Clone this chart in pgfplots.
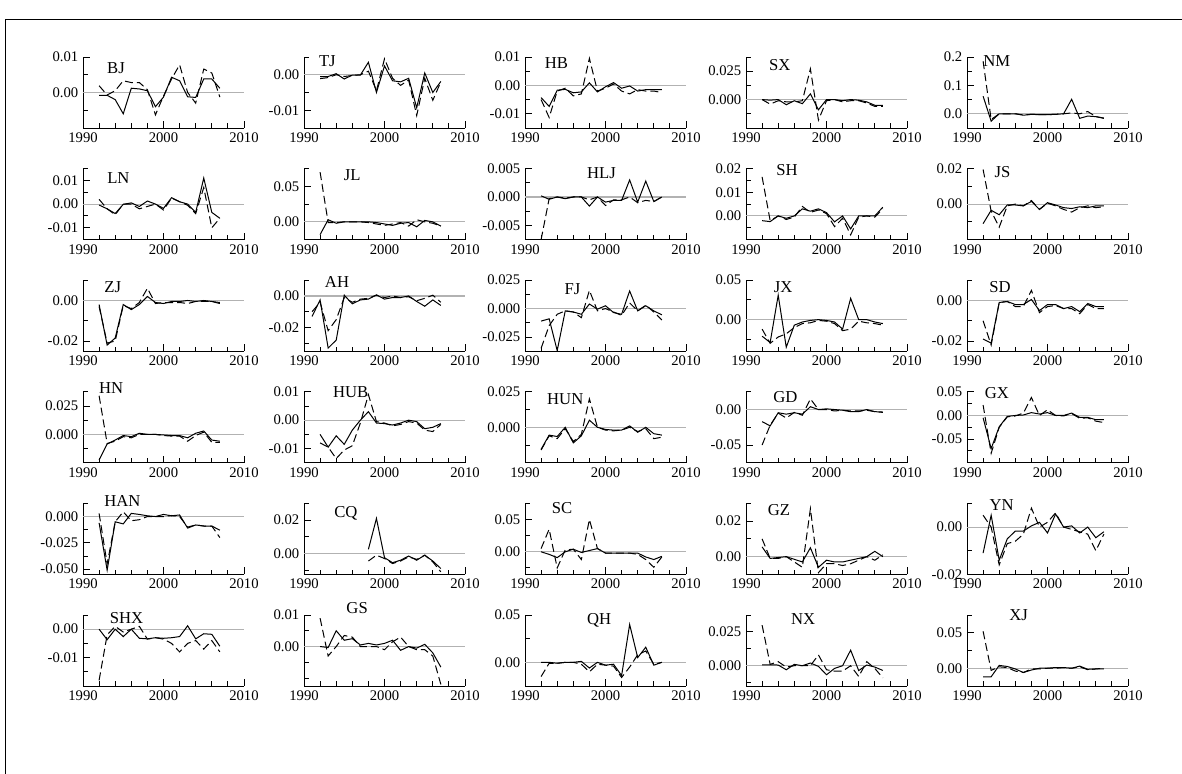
\documentclass[border=0pt]{standalone}
\usepackage{pgfplots}
\usepackage{pgfplotstable}
\usepackage{fontspec}
\setmainfont{Liberation Serif}
\pgfplotsset{compat=1.18}

\pgfplotsset{
  panel/.style={
    scale only axis, width=120.75pt, height=53.25pt, anchor=south west,
    xmin=1990, xmax=2010, axis x line*=bottom, axis y line*=left,
    axis line style={black, line width=0.7pt},
    xtick={1990,2000,2010}, xticklabels={1990,2000,2010},
    minor xtick={1992,1994,1996,1998,2002,2004,2006,2008},
    tick align=inside, major tick length=5.2pt, minor tick length=3.5pt,
    tick style={black, line width=0.7pt},
    scaled y ticks=false,
    ticklabel style={font=\fontsize{11}{12}\selectfont},
    clip mode=individual,
  },
  zero/.style={gray!60, line width=0.8pt, forget plot},
  sl/.style={black, line width=0.75pt, mark=none},
  dl/.style={black, line width=0.75pt, mark=none, dash pattern=on 6pt off 3pt},
}
\tikzset{ttl/.style={font=\fontsize{12.5}{12.5}\selectfont, inner sep=0pt}}

\newcommand{\panel}[7]{%
\begin{axis}[panel, at={({(83+221*#1)*0.75pt},{(646-111.6*#2)*0.75pt})}, #7]
\addplot[zero] coordinates {(1990,0) (2010,0)};
\addplot[sl] table[x=yr,y=s] {#3};
\addplot[dl] table[x=yr,y=d] {#3};
\node[ttl] at (rel axis cs:#5,#6) {#4};
\end{axis}}

\pgfplotstableread{
yr s d
1992 -0.0008 0.0019
1993 -0.0008 -0.0007
1994 -0.002 0.0005
1995 -0.006 0.0033
1996 0.0012 0.0028
1997 0.001 0.0028
1998 0.0005 0.0008
1999 -0.004 -0.0063
2000 -0.0013 -0.001
2001 0.0043 0.0038
2002 0.0033 0.0078
2003 -0.0012 0.0
2004 -0.0014 -0.003
2005 0.0038 0.0066
2006 0.0038 0.0055
2007 0.0012 -0.0013
}\tBJ
\pgfplotstableread{
yr s d
1992 -0.0005 -0.0011
1993 -0.0005 -0.0008
1994 0.0003 0.0
1995 -0.0012 -0.0005
1996 -0.0001 -0.0002
1997 -0.0001 0.0
1998 0.0035 0.001
1999 -0.005 -0.0045
2000 0.0025 0.0045
2001 -0.0017 -0.001
2002 -0.002 -0.003
2003 -0.001 -0.0015
2004 -0.0093 -0.0115
2005 0.0005 -0.001
2006 -0.005 -0.0072
2007 -0.0019 -0.002
}\tTJ
\pgfplotstableread{
yr s d
1992 -0.0043 -0.005
1993 -0.0074 -0.0113
1994 -0.0017 -0.002
1995 -0.0014 -0.001
1996 -0.0026 -0.0037
1997 -0.0023 -0.003
1998 0.0009 0.0095
1999 -0.0023 -0.002
2000 -0.0005 -0.001
2001 0.001 0.0005
2002 -0.001 -0.002
2003 -0.0002 -0.003
2004 -0.002 -0.0015
2005 -0.0015 -0.002
2006 -0.0015 -0.002
2007 -0.0015 -0.0025
}\tHB
\pgfplotstableread{
yr s d
1992 0.0 0.0
1993 -0.0005 -0.004
1994 0.0 -0.001
1995 -0.0045 -0.002
1996 -0.001 -0.002
1997 -0.0036 -0.001
1998 0.005 0.027
1999 -0.009 -0.018
2000 0.0 -0.001
2001 0.0 0.0
2002 -0.001 -0.002
2003 0.0 -0.001
2004 -0.0005 -0.001
2005 -0.002 -0.003
2006 -0.005 -0.006
2007 -0.005 -0.006
}\tSX
\pgfplotstableread{
yr s d
1992 0.062 0.185
1993 -0.026 -0.02
1994 0.0 0.0
1995 0.0 0.0
1996 0.0 0.0
1997 -0.005 -0.004
1998 -0.002 -0.002
1999 -0.003 -0.003
2000 -0.003 -0.003
2001 -0.002 -0.002
2002 0.0 0.0
2003 0.051 0.003
2004 -0.016 0.0
2005 -0.008 0.008
2006 -0.01 -0.01
2007 -0.015 -0.016
}\tNM
\pgfplotstableread{
yr s d
1992 -0.0004 0.002
1993 -0.002 -0.002
1994 -0.004 -0.0045
1995 -0.0001 0.0
1996 0.0005 0.0
1997 -0.001 -0.002
1998 0.0013 -0.001
1999 0.0 0.0
2000 -0.0018 -0.0025
2001 0.0027 0.0025
2002 0.001 0.001
2003 0.0 -0.0005
2004 -0.0035 -0.004
2005 0.011 0.007
2006 -0.0035 -0.01
2007 -0.006 -0.006
}\tLN
\pgfplotstableread{
yr s d
1992 -0.018 0.07
1993 0.003 -0.001
1994 -0.002 -0.001
1995 0.0 0.0
1996 0.0 0.0
1997 0.0 0.0
1998 0.0 -0.001
1999 -0.001 -0.003
2000 -0.003 -0.005
2001 -0.005 -0.003
2002 -0.002 -0.001
2003 -0.001 -0.006
2004 -0.007 0.003
2005 0.002 0.0
2006 0.0 -0.002
2007 -0.006 -0.006
}\tJL
\pgfplotstableread{
yr s d
1992 0.0002 -0.0075
1993 -0.0004 -0.0003
1994 0.0 0.0
1995 -0.0003 -0.0002
1996 0.0 0.0
1997 0.0 0.0
1998 -0.0016 -0.0005
1999 0.0 0.0
2000 -0.0009 -0.0015
2001 -0.0006 -0.0005
2002 -0.0006 -0.0005
2003 0.003 0.0
2004 -0.0009 -0.001
2005 0.0028 -0.0006
2006 -0.0008 -0.0008
2007 0.0 0.0
}\tHLJ
\pgfplotstableread{
yr s d
1992 -0.002 0.0165
1993 -0.0024 -0.002
1994 0.0 0.0
1995 -0.001 -0.0015
1996 0.0 -0.0005
1997 0.003 0.004
1998 0.002 0.0015
1999 0.003 0.0025
2000 0.0014 0.001
2001 -0.0025 -0.0045
2002 0.0 -0.001
2003 -0.0055 -0.008
2004 0.0 -0.0005
2005 0.0 0.0
2006 0.0 -0.0005
2007 0.0037 0.003
}\tSH
\pgfplotstableread{
yr s d
1992 -0.011 0.0195
1993 -0.0035 -0.004
1994 -0.006 -0.013
1995 -0.0005 -0.001
1996 -0.0005 0.0
1997 -0.001 -0.001
1998 0.0015 0.002
1999 -0.003 -0.003
2000 0.0008 0.0005
2001 -0.0005 -0.001
2002 -0.002 -0.003
2003 -0.0025 -0.0045
2004 -0.0015 -0.002
2005 -0.002 -0.001
2006 -0.001 -0.002
2007 -0.001 -0.0015
}\tJS
\pgfplotstableread{
yr s d
1992 -0.002 -0.003
1993 -0.022 -0.021
1994 -0.0185 -0.02
1995 -0.002 -0.0025
1996 -0.0045 -0.004
1997 -0.002 -0.001
1998 0.002 0.006
1999 -0.001 -0.0015
2000 -0.0015 -0.001
2001 -0.0005 -0.001
2002 -0.0005 -0.001
2003 0.0 -0.0015
2004 -0.0005 -0.0005
2005 0.0 -0.0005
2006 -0.0005 -0.0005
2007 -0.0015 -0.001
}\tZJ
\pgfplotstableread{
yr s d
1991 -0.013 -0.01
1992 -0.0025 -0.004
1993 -0.033 -0.022
1994 -0.028 -0.015
1995 0.0005 -0.001
1996 -0.005 -0.004
1997 -0.0025 -0.002
1998 -0.002 -0.0015
1999 0.0007 0.0005
2000 -0.002 -0.001
2001 -0.001 0.0
2002 -0.001 -0.001
2003 0.0 -0.0005
2004 -0.0035 -0.003
2005 -0.0065 -0.0015
2006 -0.0025 0.0005
2007 -0.006 -0.004
}\tAH
\pgfplotstableread{
yr s d
1992 -0.011 -0.035
1993 -0.009 -0.015
1994 -0.037 -0.005
1995 -0.002 -0.002
1996 -0.003 -0.003
1997 -0.005 -0.008
1998 0.004 0.016
1999 -0.0005 -0.002
2000 0.0025 0.0
2001 -0.0035 -0.003
2002 -0.005 -0.006
2003 0.0155 0.005
2004 -0.002 -0.002
2005 0.0025 0.003
2006 -0.002 -0.003
2007 -0.0055 -0.01
}\tFJ
\pgfplotstableread{
yr s d
1992 -0.021 -0.012
1993 -0.029 -0.03
1994 0.031 -0.022
1995 -0.035 -0.018
1996 -0.007 -0.01
1997 -0.003 -0.005
1998 -0.001 -0.004
1999 0.0 -0.001
2000 -0.001 -0.002
2001 -0.003 -0.005
2002 -0.012 -0.014
2003 0.027 -0.012
2004 0.0 -0.002
2005 0.0 -0.004
2006 -0.003 -0.005
2007 -0.005 -0.007
}\tJX
\pgfplotstableread{
yr s d
1992 -0.019 -0.01
1993 -0.021 -0.022
1994 -0.001 -0.001
1995 -0.0005 -0.0005
1996 -0.002 -0.003
1997 -0.002 -0.003
1998 0.0005 0.005
1999 -0.005 -0.006
2000 -0.002 -0.003
2001 -0.002 -0.0025
2002 -0.004 -0.004
2003 -0.003 -0.004
2004 -0.0055 -0.0065
2005 -0.0015 -0.002
2006 -0.003 -0.004
2007 -0.003 -0.004
}\tSD
\pgfplotstableread{
yr s d
1992 -0.0225 0.034
1993 -0.0085 -0.008
1994 -0.005 -0.006
1995 -0.001 -0.002
1996 -0.002 -0.003
1997 0.001 0.0
1998 0.0 0.0
1999 0.0 0.0
2000 -0.0005 -0.001
2001 -0.001 -0.0015
2002 -0.001 -0.0015
2003 -0.003 -0.006
2004 0.001 -0.001
2005 0.003 0.002
2006 -0.005 -0.007
2007 -0.006 -0.007
}\tHN
\pgfplotstableread{
yr s d
1992 -0.005 -0.008
1993 -0.0095 -0.0095
1994 -0.0055 -0.0135
1995 -0.0085 -0.0105
1996 -0.0035 -0.009
1997 0.0 -0.001
1998 0.003 0.009
1999 -0.001 -0.0005
2000 -0.0012 -0.001
2001 -0.0017 -0.002
2002 -0.001 -0.0015
2003 0.0 -0.0005
2004 -0.0005 -0.001
2005 -0.003 -0.0035
2006 -0.0025 -0.004
2007 -0.0012 -0.0015
}\tHUB
\pgfplotstableread{
yr s d
1992 -0.0155 -0.016
1993 -0.0055 -0.006
1994 -0.0065 -0.008
1995 0.0 -0.001
1996 -0.011 -0.01
1997 -0.006 -0.005
1998 0.005 0.02
1999 0.0 0.0
2000 -0.0015 -0.002
2001 -0.002 -0.0025
2002 -0.002 -0.002
2003 0.001 0.0
2004 -0.0035 -0.003
2005 0.0 -0.001
2006 -0.0045 -0.008
2007 -0.0055 -0.007
}\tHUN
\pgfplotstableread{
yr s d
1992 -0.017 -0.05
1993 -0.023 -0.022
1994 -0.0045 -0.005
1995 -0.0065 -0.012
1996 -0.0045 -0.004
1997 -0.0065 -0.008
1998 0.004 0.015
1999 0.0 0.0
2000 0.001 0.0
2001 0.0 -0.002
2002 -0.001 -0.001
2003 -0.003 -0.002
2004 -0.003 -0.002
2005 0.0 -0.001
2006 -0.003 -0.003
2007 -0.0035 -0.004
}\tGD
\pgfplotstableread{
yr s d
1992 -0.005 0.022
1993 -0.07 -0.08
1994 -0.024 -0.025
1995 -0.002 -0.003
1996 0.0 -0.001
1997 0.001 0.005
1998 0.006 0.038
1999 0.003 0.0
2000 0.006 0.012
2001 0.0 0.0
2002 0.0 -0.001
2003 0.005 0.004
2004 -0.004 -0.006
2005 -0.004 -0.005
2006 -0.009 -0.012
2007 -0.009 -0.015
}\tGX
\pgfplotstableread{
yr s d
1992 -0.006 0.003
1993 -0.051 -0.045
1994 -0.005 -0.005
1995 -0.007 0.0045
1996 0.003 -0.004
1997 0.002 -0.003
1998 0.0007 0.0
1999 0.0 0.0
2000 0.002 0.0
2001 0.0007 0.001
2002 0.0015 0.0
2003 -0.011 -0.01
2004 -0.008 -0.008
2005 -0.009 -0.009
2006 -0.009 -0.009
2007 -0.013 -0.02
}\tHAN
\pgfplotstableread{
yr s d
1998 0.0025 -0.0045
1999 0.021 -0.001
2000 -0.0025 -0.003
2001 -0.0055 -0.006
2002 -0.004 -0.0045
2003 -0.0015 -0.002
2004 -0.004 -0.0035
2005 -0.001 -0.001
2006 -0.0045 -0.005
2007 -0.009 -0.011
}\tCQ
\pgfplotstableread{
yr s d
1992 0.0 0.005
1993 -0.004 0.035
1994 -0.009 -0.025
1995 0.0 0.003
1996 0.004 0.004
1997 -0.001 -0.012
1998 0.002 0.05
1999 0.005 0.005
2000 -0.002 -0.002
2001 -0.002 -0.002
2002 -0.002 -0.002
2003 -0.002 -0.002
2004 -0.002 -0.004
2005 -0.008 -0.012
2006 -0.012 -0.024
2007 -0.007 -0.008
}\tSC
\pgfplotstableread{
yr s d
1992 0.0055 0.01
1993 -0.001 -0.001
1994 -0.0005 -0.001
1995 0.0 0.0
1996 -0.0015 -0.003
1997 -0.003 -0.006
1998 0.005 0.027
1999 -0.006 -0.009
2000 -0.002 -0.004
2001 -0.003 -0.004
2002 -0.003 -0.005
2003 -0.002 -0.004
2004 -0.001 -0.002
2005 0.0 0.0
2006 0.003 -0.002
2007 0.0 0.001
}\tGZ
\pgfplotstableread{
yr s d
1992 -0.011 0.005
1993 0.005 0.0
1994 -0.014 -0.016
1995 -0.005 -0.007
1996 -0.0017 -0.006
1997 -0.0017 -0.003
1998 0.0005 0.008
1999 0.002 0.0
2000 -0.0025 0.002
2001 0.0055 0.006
2002 0.0 0.0
2003 0.0005 -0.001
2004 -0.0025 -0.002
2005 0.0 -0.003
2006 -0.0045 -0.01
2007 -0.002 -0.003
}\tYN
\pgfplotstableread{
yr s d
1992 0.0 -0.018
1993 -0.0037 -0.002
1994 0.0 0.001
1995 -0.0026 -0.001
1996 0.0 0.0
1997 -0.0032 0.001
1998 -0.0034 -0.0035
1999 -0.003 -0.003
2000 -0.0032 -0.0035
2001 -0.003 -0.005
2002 -0.0026 -0.008
2003 0.0012 -0.005
2004 -0.0034 -0.004
2005 -0.0016 -0.007
2006 -0.0018 -0.004
2007 -0.006 -0.008
}\tSHX
\pgfplotstableread{
yr s d
1992 0.0 0.009
1993 -0.0003 -0.003
1994 0.005 0.0
1995 0.002 0.0035
1996 0.0025 0.003
1997 0.0005 0.0
1998 0.001 0.0
1999 0.0005 0.0
2000 0.001 -0.001
2001 0.002 0.0015
2002 -0.0012 0.003
2003 0.0 0.0
2004 -0.0005 -0.001
2005 0.0007 -0.001
2006 -0.002 -0.003
2007 -0.0065 -0.012
}\tGS
\pgfplotstableread{
yr s d
1992 0.0 -0.015
1993 0.0 -0.001
1994 -0.001 -0.001
1995 0.0 0.0
1996 0.0 0.0
1997 0.001 -0.002
1998 -0.006 -0.01
1999 0.0 -0.002
2000 -0.003 -0.003
2001 -0.002 -0.004
2002 -0.014 -0.016
2003 0.04 -0.005
2004 0.005 0.008
2005 0.016 0.012
2006 -0.003 -0.002
2007 0.0 0.0
}\tQH
\pgfplotstableread{
yr s d
1992 0.0007 0.03
1993 0.0007 0.001
1994 0.0005 0.003
1995 -0.003 -0.001
1996 0.001 0.0
1997 0.0 0.0
1998 0.002 0.0
1999 -0.0005 0.008
2000 -0.0067 -0.003
2001 -0.002 -0.004
2002 0.0 -0.004
2003 0.0115 0.0
2004 -0.0036 -0.008
2005 0.0005 0.003
2006 -0.001 -0.002
2007 -0.0035 -0.009
}\tNX
\pgfplotstableread{
yr s d
1992 -0.012 0.052
1993 -0.012 -0.003
1994 0.004 0.002
1995 0.0025 0.001
1996 -0.001 -0.004
1997 -0.006 -0.006
1998 -0.0025 -0.001
1999 0.0 -0.001
2000 0.0 0.0
2001 0.001 0.0
2002 0.001 0.001
2003 0.0 0.0
2004 0.003 0.002
2005 -0.0015 -0.002
2006 -0.001 -0.001
2007 -0.001 0.0
}\tXJ

\begin{document}
\begin{tikzpicture}
\path[use as bounding box] (0,0) rectangle (886.5pt,580.5pt);
\draw[line width=0.75pt] (3.75pt,0) -- (3.75pt,565.5pt) -- (886.5pt,565.5pt);

% row 0
\panel{0}{0}{\tBJ}{BJ}{0.205}{0.845}{ymin=-0.01,ymax=0.01,ytick={0,0.01},yticklabels={0.00,0.01},minor ytick={-0.005,0.005}}
\panel{1}{0}{\tTJ}{TJ}{0.145}{0.945}{ymin=-0.015,ymax=0.005,ytick={-0.01,0},yticklabels={-0.01,0.00},minor ytick={-0.015,-0.005,0.005}}
\panel{2}{0}{\tHB}{HB}{0.195}{0.92}{ymin=-0.015,ymax=0.01,ytick={-0.01,0,0.01},yticklabels={-0.01,0.00,0.01},minor ytick={-0.005,0.005}}
\panel{3}{0}{\tSX}{SX}{0.21}{0.88}{ymin=-0.025,ymax=0.0375,ytick={0,0.025},yticklabels={0.000,0.025},minor ytick={-0.0125,0.0125,0.0375}}
\panel{4}{0}{\tNM}{NM}{0.185}{0.94}{ymin=-0.05,ymax=0.2,ytick={0,0.1,0.2},yticklabels={0.0,0.1,0.2},minor ytick={-0.05,0.05,0.15}}
% row 1
\panel{0}{1}{\tLN}{LN}{0.22}{0.86}{ymin=-0.015,ymax=0.015,ytick={-0.01,0,0.01},yticklabels={-0.01,0.00,0.01},minor ytick={-0.005,0.005,0.015}}
\panel{1}{1}{\tJL}{JL}{0.3}{0.91}{ymin=-0.025,ymax=0.075,ytick={0,0.05},yticklabels={0.00,0.05},minor ytick={0.025,0.075}}
\panel{2}{1}{\tHLJ}{HLJ}{0.475}{0.93}{ymin=-0.0075,ymax=0.005,ytick={-0.005,0,0.005},yticklabels={-0.005,0.000,0.005},minor ytick={-0.0025,0.0025}}
\panel{3}{1}{\tSH}{SH}{0.255}{0.98}{ymin=-0.01,ymax=0.02,ytick={0,0.01,0.02},yticklabels={0.00,0.01,0.02},minor ytick={-0.005,0.005,0.015}}
\panel{4}{1}{\tJS}{JS}{0.22}{0.95}{ymin=-0.02,ymax=0.02,ytick={0,0.02},yticklabels={0.00,0.02},minor ytick={-0.01,0.01}}
% row 2
\panel{0}{2}{\tZJ}{ZJ}{0.185}{0.9}{ymin=-0.025,ymax=0.01,ytick={-0.02,0},yticklabels={-0.02,0.00},minor ytick={-0.01,0.01}}
\panel{1}{2}{\tAH}{AH}{0.205}{0.97}{ymin=-0.035,ymax=0.01,ytick={-0.02,0},yticklabels={-0.02,0.00},minor ytick={-0.03,-0.01,0.01}}
\panel{2}{2}{\tFJ}{FJ}{0.295}{0.87}{ymin=-0.0375,ymax=0.025,ytick={-0.025,0,0.025},yticklabels={-0.025,0.000,0.025},minor ytick={-0.0125,0.0125}}
\panel{3}{2}{\tJX}{JX}{0.23}{0.9}{ymin=-0.04,ymax=0.05,ytick={0,0.05},yticklabels={0.00,0.05},minor ytick={-0.025,0.025}}
\panel{4}{2}{\tSD}{SD}{0.205}{0.9}{ymin=-0.025,ymax=0.01,ytick={-0.02,0},yticklabels={-0.02,0.00},minor ytick={-0.01,0.01}}
% row 3
\panel{0}{3}{\tHN}{HN}{0.175}{1.05}{ymin=-0.025,ymax=0.0375,ytick={0,0.025},yticklabels={0.000,0.025},minor ytick={-0.0125,0.0125,0.0375}}
\panel{1}{3}{\tHUB}{HUB}{0.29}{1.0}{ymin=-0.015,ymax=0.01,ytick={-0.01,0,0.01},yticklabels={-0.01,0.00,0.01},minor ytick={-0.005,0.005}}
\panel{2}{3}{\tHUN}{HUN}{0.25}{0.9}{ymin=-0.025,ymax=0.025,ytick={0,0.025},yticklabels={0.000,0.025},minor ytick={-0.0125,0.0125}}
\panel{3}{3}{\tGD}{GD}{0.245}{0.93}{ymin=-0.075,ymax=0.025,ytick={-0.05,0},yticklabels={-0.05,0.00},minor ytick={-0.025,0.025}}
\panel{4}{3}{\tGX}{GX}{0.185}{0.98}{ymin=-0.1,ymax=0.05,ytick={-0.05,0,0.05},yticklabels={-0.05,0.00,0.05},minor ytick={-0.075,-0.025,0.025}}
% row 4
\panel{0}{4}{\tHAN}{HAN}{0.245}{1.04}{ymin=-0.055,ymax=0.0125,ytick={-0.05,-0.025,0},yticklabels={-0.050,-0.025,0.000},minor ytick={-0.0375,-0.0125,0.0125}}
\panel{1}{4}{\tCQ}{CQ}{0.26}{0.86}{ymin=-0.0125,ymax=0.03,ytick={0,0.02},yticklabels={0.00,0.02},minor ytick={-0.01,0.01,0.03}}
\panel{2}{4}{\tSC}{SC}{0.23}{0.94}{ymin=-0.035,ymax=0.075,ytick={0,0.05},yticklabels={0.00,0.05},minor ytick={-0.025,0.025,0.075}}
\panel{3}{4}{\tGZ}{GZ}{0.205}{0.9}{ymin=-0.01,ymax=0.03,ytick={0,0.02},yticklabels={0.00,0.02},minor ytick={0.01,0.03}}
\panel{4}{4}{\tYN}{YN}{0.215}{0.97}{ymin=-0.02,ymax=0.01,ytick={-0.02,0},yticklabels={-0.02,0.00},minor ytick={-0.01,0.01}}
% row 5
\panel{0}{5}{\tSHX}{SHX}{0.27}{0.96}{ymin=-0.02,ymax=0.005,ytick={-0.01,0},yticklabels={-0.01,0.00},minor ytick={-0.015,-0.005,0.005}}
\panel{1}{5}{\tGS}{GS}{0.33}{1.1}{ymin=-0.0125,ymax=0.01,ytick={0,0.01},yticklabels={0.00,0.01},minor ytick={-0.01,-0.005,0.005}}
\panel{2}{5}{\tQH}{QH}{0.46}{0.93}{ymin=-0.025,ymax=0.05,ytick={0,0.05},yticklabels={0.00,0.05},minor ytick={-0.025,0.025}}
\panel{3}{5}{\tNX}{NX}{0.355}{0.95}{ymin=-0.015,ymax=0.0375,ytick={0,0.025},yticklabels={0.000,0.025},minor ytick={-0.0125,0.0125,0.0375}}
\panel{4}{5}{\tXJ}{XJ}{0.32}{1.0}{ymin=-0.025,ymax=0.075,ytick={0,0.05},yticklabels={0.00,0.05},minor ytick={-0.025,0.025,0.075}}
\end{tikzpicture}
\end{document}
